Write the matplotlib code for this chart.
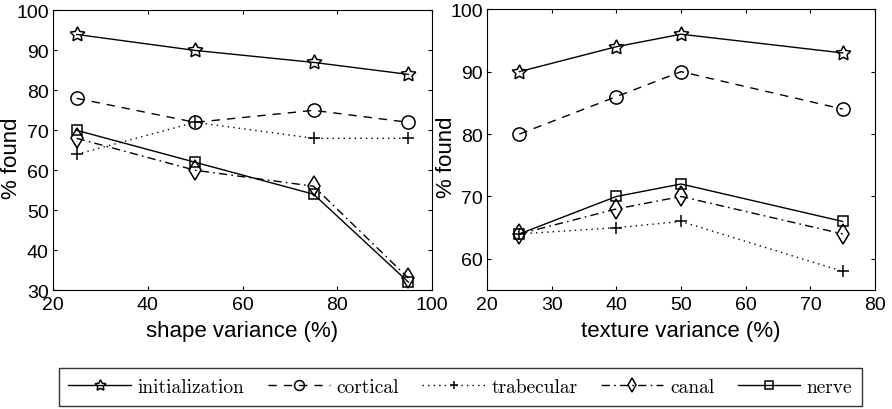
import matplotlib
matplotlib.use('Agg')
from matplotlib import pyplot as plt

plt.rcParams['font.family'] = ['Liberation Sans', 'DejaVu Sans']

# shape variance panel
shape_x = [25, 50, 75, 95]
shape_init = [94, 90, 87, 84]
shape_cort = [78, 72, 75, 72]
shape_trab = [64, 72, 68, 68]
shape_canal = [68, 60, 56, 33]
shape_nerve = [70, 62, 54, 32]

# texture variance panel
tex_x = [25, 40, 50, 75]
tex_init = [90, 94, 96, 93]
tex_cort = [80, 86, 90, 84]
tex_trab = [64, 65, 66, 58]
tex_canal = [64, 68, 70, 64]
tex_nerve = [64, 70, 72, 66]

labels = ['initialization', 'cortical', 'trabecular', 'canal', 'nerve']
styles = [('-', (5, 1, 0)), ((0, (6, 5)), 'o'), ((0, (1, 3)), '+'),
          ((0, (6, 3, 1.2, 3)), 'd'), ('-', 's')]
msizes = [11, 9.5, 8.5, 10, 7.5]

fig = plt.figure(figsize=(8.92, 4.10), dpi=100)
ax1 = fig.add_axes([0.0594, 0.290, 0.425, 0.682])
ax2 = fig.add_axes([0.546, 0.290, 0.435, 0.685])


def draw(ax, x, series):
    handles = []
    for ys, (ls, mk), ms, lab in zip(series, styles, msizes, labels):
        h, = ax.plot(x, ys, linestyle=ls, marker=mk, color='black', lw=1.0,
                     markersize=ms, mfc='none', mec='black', mew=1.1, label=lab)
        handles.append(h)
    ax.tick_params(direction='in', top=True, right=True, labelsize=14, length=3)
    ax.tick_params(axis='x', pad=4)
    ax.tick_params(axis='y', pad=3)
    ax.set_ylabel('% found', fontsize=16)
    return handles


hs = draw(ax1, shape_x, [shape_init, shape_cort, shape_trab, shape_canal, shape_nerve])
ax1.set_xlim(20, 100)
ax1.set_ylim(30, 100)
ax1.set_xticks([20, 40, 60, 80, 100])
ax1.set_yticks(range(30, 101, 10))
ax1.set_xlabel('shape variance (%)', fontsize=16, labelpad=5)
ax1.yaxis.set_label_coords(-0.083, 0.475)

draw(ax2, tex_x, [tex_init, tex_cort, tex_trab, tex_canal, tex_nerve])
ax2.set_xlim(20, 80)
ax2.set_ylim(55, 100)
ax2.set_xticks(range(20, 81, 10))
ax2.set_yticks(range(60, 101, 10))
ax2.set_xlabel('texture variance (%)', fontsize=16, labelpad=5)
ax2.yaxis.set_label_coords(-0.078, 0.475)

leg = fig.legend(hs, labels, loc='center', bbox_to_anchor=(0.516, 0.054), ncol=5,
                 prop={'family': 'cmr10', 'size': 14}, frameon=True, fancybox=False,
                 edgecolor='black', handlelength=3.2, columnspacing=1.2,
                 handletextpad=0.35, borderpad=0.5, markerscale=0.75)
leg.get_frame().set_linewidth(1.0)

plt.savefig('out.png', dpi=100)
